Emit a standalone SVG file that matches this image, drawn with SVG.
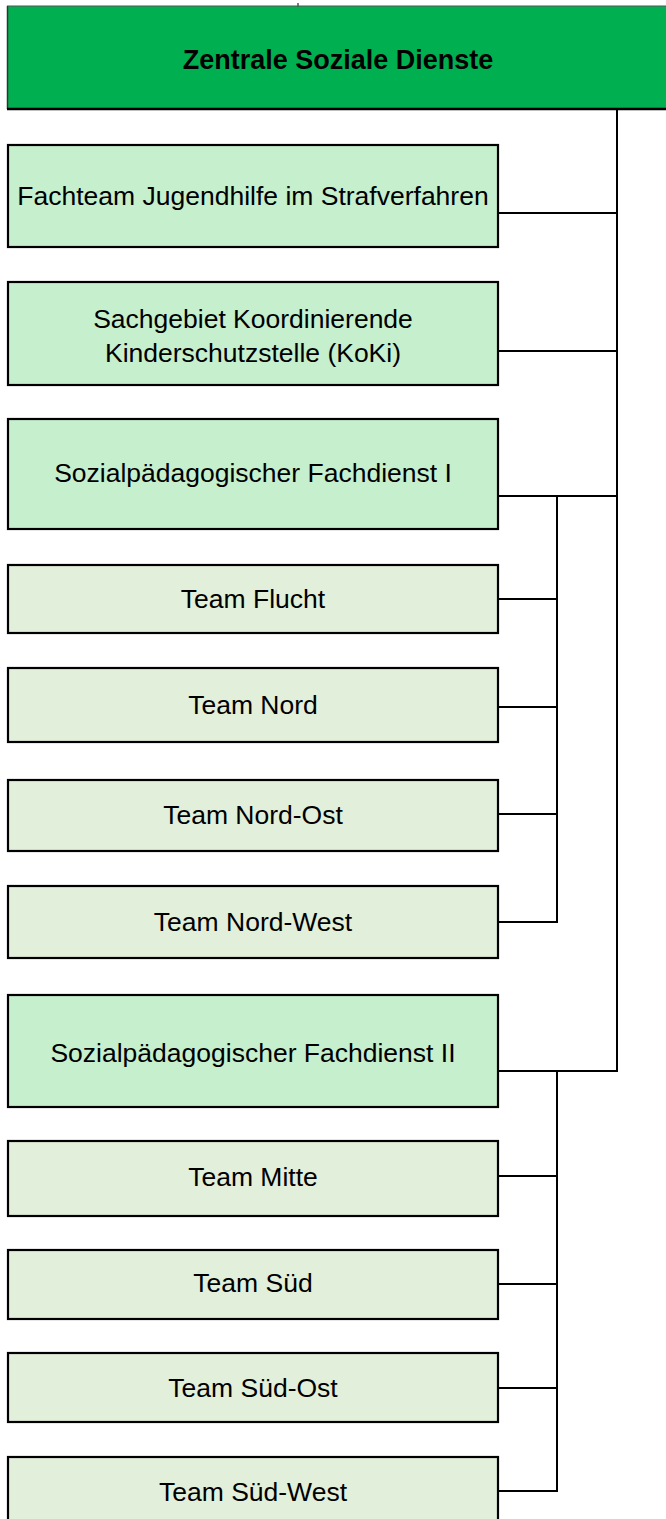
<svg xmlns="http://www.w3.org/2000/svg" width="666" height="1519" viewBox="0 0 666 1519">
<style>
text{font-family:"Liberation Sans",Arial,sans-serif;font-size:26.5px;fill:#000;text-anchor:middle}
.t{font-weight:bold;font-size:27px}
.l1{fill:#C6EFCE;stroke:#000;stroke-width:2.2}
.l2{fill:#E2EFDA;stroke:#000;stroke-width:2.2}
.c{stroke:#000;stroke-width:2;fill:none}
</style>
<rect width="666" height="1519" fill="#fff"/>
<g id="zentrale">
<rect x="7" y="6" width="670" height="103" fill="#00B050"/>
<line x1="7" y1="6" x2="666" y2="6" stroke="#555" stroke-width="1.2"/>
<line x1="7.5" y1="6" x2="7.5" y2="109" stroke="#333" stroke-width="1.5"/>
<line x1="7" y1="109" x2="666" y2="109" stroke="#000" stroke-width="2.5"/>
<line x1="298" y1="3" x2="298" y2="7" stroke="#555" stroke-width="1.5"/>
<text class="t" x="338" y="69">Zentrale Soziale Dienste</text>
</g>
<g id="fachteam"><rect class="l1" x="8" y="145" width="490" height="102"/><text x="253" y="205">Fachteam Jugendhilfe im Strafverfahren</text></g>
<g id="koki"><rect class="l1" x="8" y="282" width="490" height="103"/><text x="253" y="328">Sachgebiet Koordinierende</text><text x="253" y="362">Kinderschutzstelle (KoKi)</text></g>
<g id="sfd1"><rect class="l1" x="8" y="419" width="490" height="110"/><text x="253" y="482">Sozialpädagogischer Fachdienst I</text></g>
<g id="flucht"><rect class="l2" x="8" y="565" width="490" height="68"/><text x="253" y="608">Team Flucht</text></g>
<g id="nord"><rect class="l2" x="8" y="668" width="490" height="74"/><text x="253" y="714">Team Nord</text></g>
<g id="nordost"><rect class="l2" x="8" y="780" width="490" height="71"/><text x="253" y="824">Team Nord-Ost</text></g>
<g id="nordwest"><rect class="l2" x="8" y="886" width="490" height="72"/><text x="253" y="931">Team Nord-West</text></g>
<g id="sfd2"><rect class="l1" x="8" y="995" width="490" height="112"/><text x="253" y="1062">Sozialpädagogischer Fachdienst II</text></g>
<g id="mitte"><rect class="l2" x="8" y="1141" width="490" height="75"/><text x="253" y="1186">Team Mitte</text></g>
<g id="sued"><rect class="l2" x="8" y="1250" width="490" height="69"/><text x="253" y="1292">Team Süd</text></g>
<g id="suedost"><rect class="l2" x="8" y="1353" width="490" height="69"/><text x="253" y="1397">Team Süd-Ost</text></g>
<g id="suedwest"><rect class="l2" x="8" y="1457" width="490" height="80"/><text x="253" y="1501">Team Süd-West</text></g>
<g id="connectors" class="c">
<path class="c" d="M617 109V1071M498 213H617M498 351H617M498 496H617M498 1071H618"/>
<path class="c" d="M557 496V923M498 599H557M498 707H557M498 814H557M498 922H558"/>
<path class="c" d="M557 1071V1492M498 1176H557M498 1284H557M498 1388H557M498 1491H558"/>
</g>
</svg>
